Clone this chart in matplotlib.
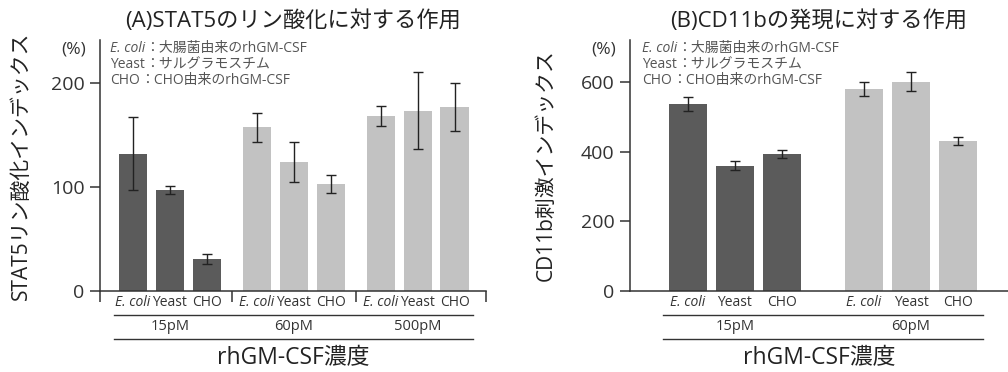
import numpy as np
import matplotlib
matplotlib.use('Agg')
import matplotlib.pyplot as plt
import matplotlib.transforms as mtransforms

plt.rcParams['font.family'] = ['Open Sans', 'Noto Sans CJK JP', 'DejaVu Sans']

# データ
sources = ['E. coli', 'Yeast', 'CHO']
conc_a = ['15pM', '60pM', '500pM']
stat5_mean = [132, 97, 31, 157, 124, 103, 168, 173, 177]
stat5_err = [35, 4, 5, 14, 19, 8.5, 10, 37, 23]

conc_b = ['15pM', '60pM']
cd11b_mean = [537, 360, 395, 582, 602, 431]
cd11b_err = [20, 13, 12, 20, 28, 12]

notes = [('E. coli', '：大腸菌由来のrhGM-CSF'),
         ('Yeast', '：サルグラモスチム'),
         ('CHO', '：CHO由来のrhGM-CSF')]

DARK = '#5b5b5b'
LIGHT = '#c2c2c2'
TXT = '#333333'


def positions(n_groups, gap):
    pos = []
    for g in range(n_groups):
        for i in range(3):
            pos.append(g * gap + i)
    return np.array(pos, dtype=float)


def draw_panel(ax, conc, mean, err, gap, width, xlim, ylim, yticks,
               title, ylabel, ylabel_x, sep_ticks, note_x):
    pos = positions(len(conc), gap)
    colors = [DARK if k < 3 else LIGHT for k in range(len(pos))]
    ax.bar(pos, mean, width=width, color=colors, zorder=2)
    ax.errorbar(pos, mean, yerr=err, fmt='none', ecolor='#222222',
                elinewidth=1.0, capsize=3.5, capthick=1.0, zorder=3)

    ax.set_xlim(*xlim)
    ax.set_ylim(*ylim)
    ax.set_yticks(yticks)
    ax.tick_params(axis='y', labelsize=14, colors=TXT, length=7, width=1.1, pad=4)
    ax.tick_params(axis='x', length=0, labelsize=10, colors=TXT, pad=3)
    ax.set_xticks(pos)
    ax.set_xticklabels(sources * len(conc))
    for lab in ax.get_xticklabels():
        if lab.get_text() == 'E. coli':
            lab.set_style('italic')

    # 区切りの目盛り
    if sep_ticks:
        ax.set_xticks(sep_ticks, minor=True)
        ax.tick_params(axis='x', which='minor', length=8, width=1.1, color=TXT)

    for s in ['top', 'right']:
        ax.spines[s].set_visible(False)
    for s in ['left', 'bottom']:
        ax.spines[s].set_color(TXT)
        ax.spines[s].set_linewidth(1.1)

    trans = mtransforms.blended_transform_factory(ax.transData, ax.transAxes)
    x0 = pos[0] - width / 2 - 0.13
    x1 = pos[-1] + width / 2 + 0.13
    for yy in [-0.096, -0.191]:
        ax.plot([x0, x1], [yy, yy], color=TXT, lw=1.0, transform=trans, clip_on=False)
    for g, c in enumerate(conc):
        ax.text(g * gap + 1, -0.143, c, transform=trans, ha='center', va='center',
                fontsize=10.5, color=TXT)

    ax.text(0.5, -0.266, 'rhGM-CSF濃度', transform=ax.transAxes, ha='center',
            va='center', fontsize=16.5, color='#222222')
    ax.set_title(title, fontsize=16, color='#222222', pad=9)
    ax.set_ylabel(ylabel, fontsize=15, color='#222222')
    ax.yaxis.set_label_coords(ylabel_x, 0.5)

    ax.annotate('(%)', xy=(0, 0.964), xycoords='axes fraction', xytext=(-10, 0),
                textcoords='offset points', ha='right', va='center', fontsize=12.5,
                color=TXT)

    # 凡例テキスト
    ys = [0.968, 0.902, 0.838]
    for (name, desc), yy in zip(notes, ys):
        t = ax.text(note_x, yy, name, transform=ax.transAxes, ha='left',
                    va='center', fontsize=10, color='#555555',
                    style='italic' if name == 'E. coli' else 'normal')
        ax.annotate(desc, xy=(1, 0.5), xycoords=t, ha='left', va='center',
                    fontsize=10, color='#555555')


fig = plt.figure(figsize=(10.08, 3.72), dpi=100)
ax1 = fig.add_axes([0.0992, 0.2177, 0.3829, 0.6748])
ax2 = fig.add_axes([0.625, 0.2177, 0.375, 0.6748])

gap_a = 3.35
draw_panel(ax1, conc_a, stat5_mean, stat5_err, gap_a, 0.76, (-0.89, 9.55),
           (0, 241), [0, 100, 200], '(A)STAT5のリン酸化に対する作用',
           'STAT5リン酸化インデックス', -0.176,
           [-0.89, 2 + (gap_a - 2) / 2, gap_a + 2 + (gap_a - 2) / 2, 9.55], 0.026)

draw_panel(ax2, conc_b, cd11b_mean, cd11b_err, 3.74, 0.81, (-1.23, 6.8),
           (0, 722), [0, 200, 400, 600], '(B)CD11bの発現に対する作用',
           'CD11b刺激インデックス', -0.193, None, 0.032)

fig.savefig('out.png', dpi=100)
